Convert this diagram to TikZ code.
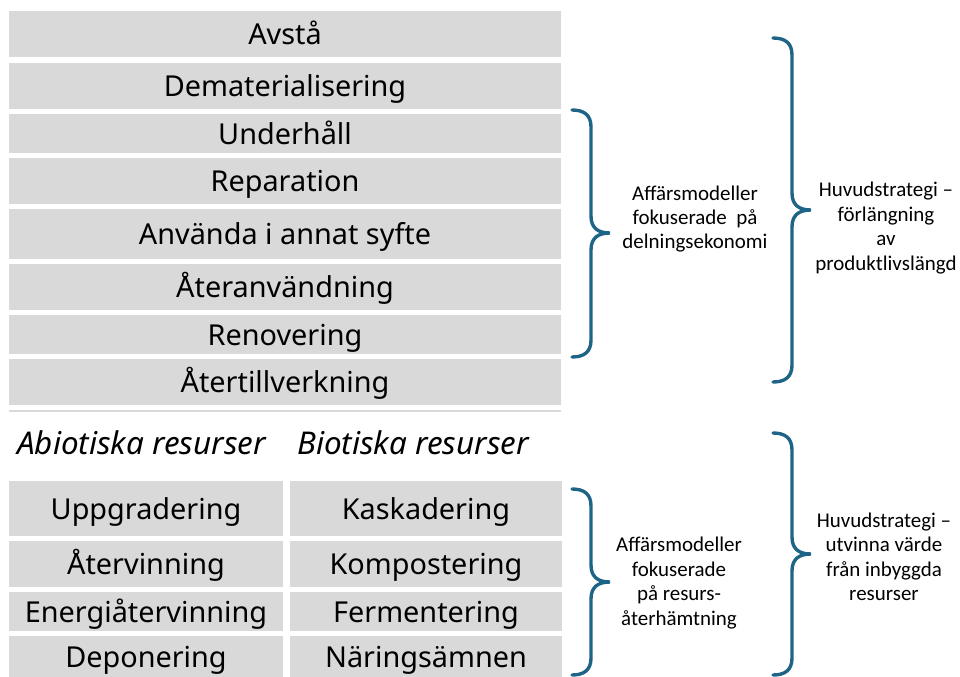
\documentclass[tikz,border=0pt]{standalone}
\usepackage{fontspec}
\setmainfont{Carlito}
\newfontfamily\cellfont{Noto Sans}
\usetikzlibrary{positioning}

\definecolor{cellgrey}{HTML}{D9D9D9}
\definecolor{bracecol}{RGB}{30,100,135}

\tikzset{
  celltext/.style={font=\cellfont\fontsize{20.5}{24}\selectfont, inner sep=0pt,
    text height=0.72em, text depth=0.22em, yshift=-5pt},
  header/.style={font=\cellfont\itshape\fontsize{22.3}{26}\selectfont, inner sep=0pt, anchor=west},
  sidetext/.style={font=\fontsize{14.9}{17.4}\selectfont, align=center, inner sep=0pt},
  bracestroke/.style={draw=bracecol, line width=2.4pt, line cap=round}
}

% curly brace opening to the left: x, top y, tip y, bottom y
\newcommand\sidebrace[4]{%
  \draw[bracestroke] (#1,#2) .. controls (#1+12,#2) and (#1+19,#2+5) .. (#1+19,#2+17)
    -- (#1+19,#3-17) .. controls (#1+19,#3-5) and (#1+26,#3) .. (#1+38,#3)
    .. controls (#1+26,#3) and (#1+19,#3+5) .. (#1+19,#3+17)
    -- (#1+19,#4-17) .. controls (#1+19,#4-5) and (#1+12,#4) .. (#1,#4);}

\begin{document}
\begin{tikzpicture}[x=0.025cm, y=-0.025cm]
  \useasboundingbox (0,0) rectangle (960,677);

  % strategies for longer product life
  \foreach \name/\ya/\yb/\txt in {avsta/11/57/Avstå, demat/63/109/Dematerialisering,
      underhall/114/153/Underhåll, reparation/158/204/Reparation,
      annatsyfte/209/259/Använda i annat syfte, ateranv/264/310/Återanvändning,
      renovering/315/354/Renovering, atertillv/359/405/Återtillverkning}{
    \fill[cellgrey] (9,\ya) rectangle (561,\yb);
    \node[celltext] (\name) at (285,{(\ya+\yb)/2}) {\txt};
  }
  \fill[cellgrey] (9,410) rectangle (561,412);

  % resource columns
  \node[header] (abiotisk) at (17,443) {Abiotiska resurser};
  \node[header] (biotisk) at (297,443) {Biotiska resurser};

  \foreach \name/\ya/\yb/\txt in {uppgr/481/536/Uppgradering, atervinn/541/587/Återvinning,
      energi/592/631/Energiåtervinning, depon/636/677/Deponering}{
    \fill[cellgrey] (9,\ya) rectangle (283,\yb);
    \node[celltext] (\name) at (146,{(\ya+\yb)/2}) {\txt};
  }
  \foreach \name/\ya/\yb/\txt in {kaskad/481/536/Kaskadering, kompost/541/587/Kompostering,
      ferment/592/631/Fermentering, naring/636/677/Näringsämnen}{
    \fill[cellgrey] (290,\ya) rectangle (562,\yb);
    \node[celltext] (\name) at (426,{(\ya+\yb)/2}) {\txt};
  }

  % braces
  \sidebrace{572}{110}{233}{357}
  \sidebrace{773}{38}{210}{382}
  \sidebrace{572}{489}{582}{675}
  \sidebrace{773}{433}{554}{675}

  \node[sidetext] (delning) at (695,219) {Affärsmodeller\\fokuserade\ \ på\\delningsekonomi};
  \node[sidetext] (forlang) at (886,228) {Huvudstrategi –\\förlängning\\av\\produktlivslängd};
  \node[sidetext] (resurs) at (679,583) {Affärsmodeller\\fokuserade\\på resurs-\\återhämtning};
  \node[sidetext] (utvinna) at (884,557) {Huvudstrategi –\\utvinna värde\\från inbyggda\\resurser};
\end{tikzpicture}
\end{document}
